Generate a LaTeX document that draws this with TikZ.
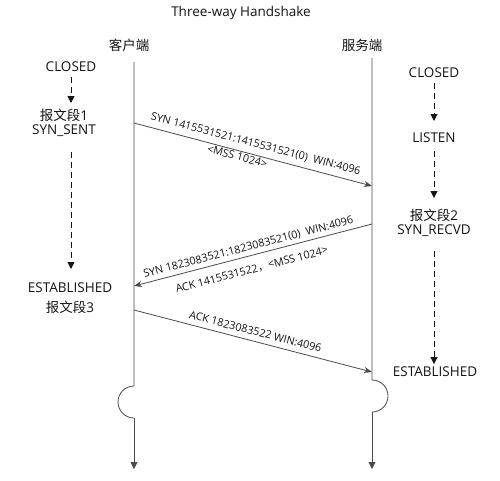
\documentclass[tikz,border=0pt]{standalone}
\usepackage{fontspec}
\setmainfont{Open Sans}
\newfontfamily\cjk{Noto Sans CJK SC}
\usetikzlibrary{arrows.meta}
\definecolor{txt}{HTML}{141414}
\definecolor{ln}{HTML}{4A4A4A}
\tikzset{
  lbl/.style={text=txt, font=\fontsize{13.5}{16}\selectfont, inner sep=1pt, align=center},
  msglbl/.style={text=txt, font=\fontsize{10.8}{12}\selectfont, inner sep=0.5pt, sloped},
  lifeline/.style={draw=ln, line width=0.8pt},
  life/.style={draw=ln, line width=0.8pt, -{Triangle[width=7pt,length=7pt]}},
  statearr/.style={draw=txt, line width=0.9pt, dash pattern=on 6pt off 4pt, -{Triangle[width=7pt,length=7pt]}},
  msg/.style={draw=ln, line width=0.8pt, -{Stealth[width=6pt,length=8pt]}}
}
\begin{document}
\begin{tikzpicture}[x=1pt,y=-1pt]
\useasboundingbox (0,0) rectangle (500,480);
% title and headers
\node[lbl] (title) at (241,13) {Three-way Handshake};
\node[lbl] (cli) at (129,45) {\cjk 客户端};
\node[lbl] (srv) at (362,45) {\cjk 服务端};
% lifelines
\coordinate (ctop) at (134,62);
\coordinate (cb1) at (134,386);
\coordinate (cb2) at (134,418);
\coordinate (cbot) at (134,469);
\coordinate (stop) at (372,58);
\coordinate (sb1) at (372,380);
\coordinate (sb2) at (372,412);
\coordinate (sbot) at (372,469);
\draw[lifeline] (ctop) -- (cb1) arc[start angle=270, end angle=90, radius=16];
\draw[life] (cb2) -- (cbot);
\draw[lifeline] (stop) -- (sb1) arc[start angle=-90, end angle=90, radius=16];
\draw[life] (sb2) -- (sbot);
% client states
\node[lbl] (c1) at (71,67) {CLOSED};
\node[lbl] (c2) at (64,123) {{\cjk 报文段}1\\[-2pt]SYN\_SENT};
\node[lbl] (c3) at (70,298) {ESTABLISHED\\[4pt]{\cjk 报文段}3};
\draw[statearr] (71,77) -- (71,103);
\draw[statearr] (71,152) -- (71,269);
% server states
\node[lbl] (s1) at (434,73) {CLOSED};
\node[lbl] (s2) at (434,138) {LISTEN};
\node[lbl] (s3) at (434,223) {{\cjk 报文段}2\\[-2pt]SYN\_RECVD};
\node[lbl] (s4) at (435,372) {ESTABLISHED};
\draw[statearr] (434,83) -- (434,121);
\draw[statearr] (434,151) -- (434,198);
\draw[statearr] (434,251) -- (434,364);
% messages
\coordinate (m1s) at (134,123);
\coordinate (m1e) at (372,186);
\coordinate (m2s) at (372,224);
\coordinate (m2e) at (134,286);
\coordinate (m3s) at (134,310);
\coordinate (m3e) at (372,372);
\draw[msg] (m1s) -- (m1e);
\path (m1s) -- node[msglbl, pos=0.5, above=5pt] (l1a) {SYN 1415531521:1415531521(0)\ \ WIN:4096}
               node[msglbl, pos=0.44, below=1pt] (l1b) {<MSS 1024>} (m1e);
\draw[msg] (m2s) -- (m2e);
\path (m2e) -- node[msglbl, pos=0.49, above=3pt] (l2a) {SYN 1823083521:1823083521(0)\ \ WIN:4096}
               node[msglbl, pos=0.48, below=9pt] (l2b) {ACK 1415531522{\cjk ，}<MSS 1024>} (m2s);
\draw[msg] (m3s) -- (m3e);
\path (m3s) -- node[msglbl, pos=0.5, above=5pt] (l3) {ACK 1823083522 WIN:4096} (m3e);
\end{tikzpicture}
\end{document}
